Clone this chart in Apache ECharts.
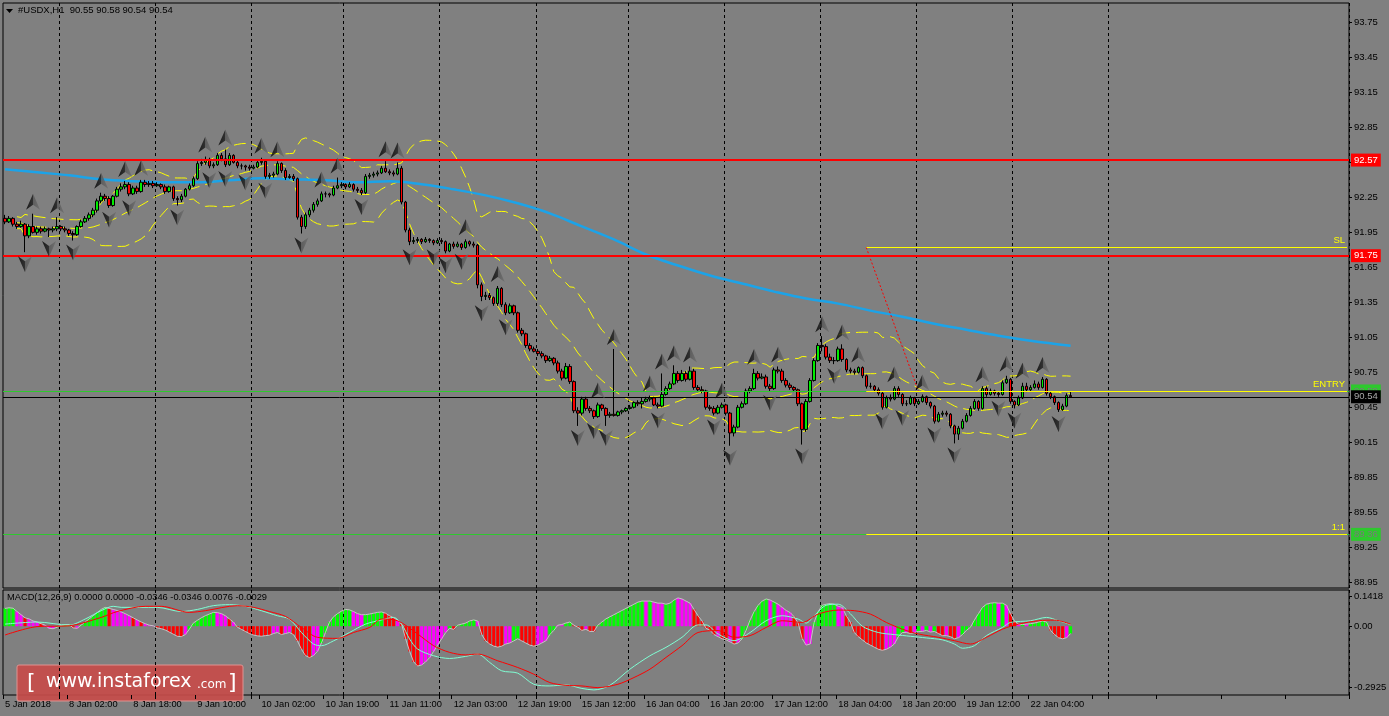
<!DOCTYPE html>
<html><head><meta charset="utf-8">
<script src="https://cdn.jsdelivr.net/npm/echarts@6/dist/echarts.min.js"></script>
<style>html,body{margin:0;padding:0;background:#808080;}#c{width:1389px;height:716px;}</style>
</head><body><div id="c"></div>
<script>
// ---------- DATA ----------
const timeLabels = ['5 Jan 2018','8 Jan 02:00','8 Jan 18:00','9 Jan 10:00','10 Jan 02:00','10 Jan 19:00','11 Jan 11:00','12 Jan 03:00','12 Jan 19:00','15 Jan 12:00','16 Jan 04:00','16 Jan 20:00','17 Jan 12:00','18 Jan 04:00','18 Jan 20:00','19 Jan 12:00','22 Jan 04:00'];
const daySeparatorBars = [14, 38, 62, 85, 109, 133, 156, 180, 204, 228, 252, 276];
const opens = [
92.07,92.04,92.07,92.02,92.00,92.02,91.92,92.00,91.95,91.98,
91.96,91.98,91.97,91.98,92.00,91.98,91.97,91.94,91.93,92.00,
92.04,92.07,92.10,92.14,92.22,92.26,92.24,92.18,92.26,92.32,
92.34,92.36,92.28,92.33,92.30,92.38,92.36,92.37,92.35,92.36,
92.34,92.30,92.34,92.24,92.23,92.26,92.32,92.35,92.41,92.54,
92.55,92.57,92.52,92.53,92.61,92.58,92.53,92.61,92.55,92.52,
92.52,92.51,92.50,92.51,92.55,92.56,92.43,92.44,92.45,92.54,
92.48,92.42,92.43,92.41,92.08,92.00,92.10,92.14,92.19,92.22,
92.28,92.28,92.27,92.33,92.35,92.36,92.34,92.36,92.32,92.31,
92.29,92.43,92.44,92.45,92.46,92.50,92.47,92.46,92.45,92.50,
92.21,91.97,91.87,91.88,91.89,91.87,91.89,91.88,91.86,91.88,
91.87,91.79,91.85,91.83,91.85,91.82,91.87,91.85,91.84,91.50,
91.40,91.41,91.39,91.34,91.47,91.33,91.26,91.32,91.26,91.11,
91.08,90.98,90.95,90.93,90.91,90.89,90.85,90.87,90.83,90.76,
90.70,90.80,90.67,90.42,90.40,90.52,90.44,90.42,90.37,90.47,
90.44,90.38,90.39,90.38,90.41,90.42,90.44,90.45,90.49,90.48,
90.50,90.52,90.53,90.47,90.46,90.56,90.61,90.65,90.74,90.68,
90.74,90.69,90.76,90.62,90.60,90.59,90.45,90.44,90.40,90.45,
90.47,90.40,90.23,90.28,90.45,90.48,90.59,90.61,90.74,90.70,
90.71,90.63,90.61,90.77,90.76,90.68,90.64,90.62,90.60,90.48,
90.26,90.50,90.68,90.85,90.98,90.97,90.88,90.85,90.85,90.95,
90.86,90.77,90.76,90.75,90.79,90.72,90.63,90.63,90.60,90.57,
90.45,90.53,90.52,90.61,90.56,90.48,90.48,90.53,90.48,90.50,
90.54,90.49,90.46,90.33,90.39,90.40,90.39,90.29,90.22,90.27,
90.33,90.38,90.44,90.50,90.44,90.61,90.56,90.59,90.57,90.56,
90.66,90.69,90.50,90.47,90.53,90.63,90.60,90.62,90.65,90.62,
90.69,90.57,90.54,90.49,90.43,90.46,90.55];
const highs = [
92.10,92.09,92.08,92.04,92.05,92.03,92.02,92.11,92.00,92.00,
92.00,91.99,92.00,92.08,92.01,92.00,91.98,91.96,92.01,92.06,
92.09,92.12,92.16,92.24,92.29,92.28,92.26,92.27,92.34,92.37,
92.39,92.38,92.35,92.35,92.40,92.40,92.39,92.39,92.38,92.37,
92.36,92.35,92.35,92.26,92.28,92.33,92.37,92.43,92.56,92.58,
92.60,92.59,92.55,92.63,92.63,92.66,92.63,92.62,92.57,92.54,
92.53,92.53,92.53,92.57,92.59,92.57,92.46,92.47,92.56,92.55,
92.50,92.45,92.45,92.42,92.10,92.12,92.16,92.21,92.24,92.30,
92.30,92.29,92.35,92.42,92.38,92.37,92.38,92.37,92.34,92.33,
92.45,92.46,92.47,92.48,92.52,92.56,92.49,92.48,92.55,92.52,
92.22,91.99,91.91,91.91,91.90,91.91,91.90,91.89,91.90,91.90,
91.88,91.86,91.87,91.87,91.86,91.89,91.88,91.87,91.85,91.52,
91.44,91.43,91.40,91.49,91.48,91.35,91.34,91.33,91.27,91.13,
91.09,91.00,90.97,90.95,90.93,90.90,90.89,90.88,90.85,90.78,
90.83,90.82,90.68,90.45,90.54,90.54,90.46,90.43,90.49,90.48,
90.45,90.41,90.95,90.42,90.43,90.45,90.47,90.50,90.51,90.53,
90.54,90.55,90.54,90.49,90.74,90.63,90.67,90.81,90.76,90.77,
90.76,90.80,90.78,90.64,90.63,90.60,90.47,90.46,90.47,90.49,
90.48,90.41,90.30,90.47,90.50,90.61,90.63,90.78,90.76,90.74,
90.73,90.65,90.79,90.80,90.78,90.70,90.66,90.63,90.61,90.49,
90.52,90.70,90.87,91.00,91.06,90.99,90.91,90.88,90.97,90.99,
90.87,90.79,90.78,90.80,90.80,90.73,90.66,90.64,90.62,90.58,
90.55,90.56,90.63,90.63,90.57,90.51,90.55,90.54,90.52,90.56,
90.55,90.50,90.47,90.41,90.42,90.42,90.40,90.30,90.29,90.35,
90.40,90.46,90.52,90.51,90.63,90.63,90.61,90.60,90.58,90.68,
90.72,90.70,90.51,90.55,90.66,90.66,90.64,90.68,90.67,90.71,
90.70,90.58,90.55,90.50,90.48,90.57,90.58];
const lows = [
92.02,92.03,92.00,91.98,91.99,91.78,91.90,91.94,91.93,91.94,
91.95,91.91,91.95,91.96,91.96,91.95,91.92,91.88,91.92,91.99,
92.03,92.05,92.08,92.12,92.20,92.22,92.16,92.17,92.25,92.30,
92.32,92.26,92.27,92.28,92.29,92.34,92.34,92.33,92.34,92.32,
92.28,92.29,92.22,92.18,92.21,92.25,92.31,92.34,92.40,92.52,
92.53,92.50,92.50,92.52,92.56,92.51,92.52,92.54,92.50,92.49,
92.48,92.48,92.49,92.50,92.53,92.41,92.41,92.42,92.44,92.46,
92.40,92.41,92.39,92.06,91.94,91.98,92.08,92.12,92.17,92.21,
92.25,92.25,92.26,92.32,92.33,92.32,92.33,92.30,92.29,92.27,
92.28,92.41,92.42,92.43,92.45,92.46,92.44,92.43,92.44,92.19,
91.95,91.84,91.85,91.86,91.85,91.86,91.86,91.84,91.85,91.85,
91.77,91.78,91.81,91.82,91.80,91.81,91.83,91.82,91.47,91.36,
91.37,91.37,91.32,91.32,91.31,91.24,91.25,91.24,91.09,91.06,
90.96,90.93,90.92,90.89,90.87,90.83,90.84,90.81,90.74,90.68,
90.69,90.65,90.40,90.29,90.38,90.42,90.40,90.35,90.36,90.42,
90.29,90.36,90.37,90.37,90.39,90.41,90.43,90.44,90.46,90.44,
90.49,90.50,90.46,90.44,90.45,90.55,90.60,90.64,90.66,90.67,
90.67,90.68,90.60,90.58,90.57,90.43,90.42,90.38,90.39,90.44,
90.38,90.12,90.20,90.27,90.44,90.47,90.57,90.60,90.68,90.69,
90.61,90.59,90.60,90.74,90.66,90.62,90.60,90.58,90.46,90.13,
90.24,90.49,90.67,90.84,90.93,90.86,90.83,90.82,90.84,90.84,
90.75,90.74,90.73,90.74,90.70,90.61,90.61,90.58,90.55,90.43,
90.44,90.50,90.51,90.54,90.46,90.46,90.47,90.46,90.47,90.49,
90.47,90.44,90.31,90.32,90.37,90.37,90.27,90.14,90.17,90.26,
90.32,90.37,90.43,90.42,90.43,90.54,90.55,90.55,90.54,90.55,
90.65,90.48,90.44,90.46,90.52,90.58,90.59,90.61,90.60,90.61,
90.55,90.52,90.47,90.41,90.42,90.45,90.54];
const closes = [
92.04,92.07,92.02,92.00,92.02,91.92,92.00,91.95,91.98,91.96,
91.98,91.97,91.98,92.00,91.98,91.97,91.94,91.93,92.00,92.04,
92.07,92.10,92.14,92.22,92.26,92.24,92.18,92.26,92.32,92.34,
92.36,92.28,92.33,92.30,92.38,92.36,92.37,92.35,92.36,92.34,
92.30,92.34,92.24,92.23,92.26,92.32,92.35,92.41,92.54,92.55,
92.57,92.52,92.53,92.61,92.58,92.53,92.61,92.55,92.52,92.52,
92.51,92.50,92.51,92.55,92.56,92.43,92.44,92.45,92.54,92.48,
92.42,92.43,92.41,92.08,92.00,92.10,92.14,92.19,92.22,92.28,
92.28,92.27,92.33,92.35,92.36,92.34,92.36,92.32,92.31,92.29,
92.43,92.44,92.45,92.46,92.50,92.47,92.46,92.45,92.50,92.21,
91.97,91.87,91.88,91.89,91.87,91.89,91.88,91.86,91.88,91.87,
91.79,91.85,91.83,91.85,91.82,91.87,91.85,91.84,91.50,91.40,
91.41,91.39,91.34,91.47,91.33,91.26,91.32,91.26,91.11,91.08,
90.98,90.95,90.93,90.91,90.89,90.85,90.87,90.83,90.76,90.70,
90.80,90.67,90.42,90.40,90.52,90.44,90.42,90.37,90.47,90.44,
90.38,90.39,90.38,90.41,90.42,90.44,90.45,90.49,90.48,90.50,
90.52,90.53,90.47,90.46,90.56,90.61,90.65,90.74,90.68,90.74,
90.69,90.76,90.62,90.60,90.59,90.45,90.44,90.40,90.45,90.47,
90.40,90.23,90.28,90.45,90.48,90.59,90.61,90.74,90.70,90.71,
90.63,90.61,90.77,90.76,90.68,90.64,90.62,90.60,90.48,90.26,
90.50,90.68,90.85,90.98,90.97,90.88,90.85,90.85,90.95,90.86,
90.77,90.76,90.75,90.79,90.72,90.63,90.63,90.60,90.57,90.45,
90.53,90.52,90.61,90.56,90.48,90.48,90.53,90.48,90.50,90.54,
90.49,90.46,90.33,90.39,90.40,90.39,90.29,90.22,90.27,90.33,
90.38,90.44,90.50,90.44,90.61,90.56,90.59,90.57,90.56,90.66,
90.69,90.50,90.47,90.53,90.63,90.60,90.62,90.65,90.62,90.69,
90.57,90.54,90.49,90.43,90.46,90.55,90.54];
// long moving average read at sample bars [barIndex, value]
const maPoints = [[0,92.491],[8,92.465],[16,92.439],[24,92.405],[32,92.388],[40,92.379],[48,92.379],[56,92.396],[64,92.413],[72,92.405],[80,92.396],[88,92.379],[96,92.388],[104,92.362],[112,92.319],[120,92.267],[128,92.199],[136,92.113],[144,92.001],[152,91.889],[160,91.760],[168,91.666],[176,91.580],[184,91.511],[192,91.442],[200,91.382],[208,91.339],[216,91.279],[224,91.227],[232,91.167],[240,91.115],[248,91.064],[256,91.021],[266,90.978]];
const macdHist = [
0.085,0.088,0.086,0.070,0.055,0.040,0.035,0.025,0.020,0.012,
0.005,-0.010,-0.012,-0.005,0.004,0.008,0.008,-0.008,-0.010,0.005,
0.020,0.035,0.050,0.065,0.080,0.090,0.085,0.080,0.075,0.068,
0.060,0.050,0.040,0.030,0.020,0.012,0.005,0.002,-0.008,-0.012,
-0.018,-0.028,-0.038,-0.048,-0.050,-0.040,-0.015,0.015,0.028,0.040,
0.050,0.058,0.066,0.065,0.060,0.050,0.035,0.020,-0.005,-0.015,
-0.025,-0.035,-0.042,-0.046,-0.048,-0.045,-0.043,-0.035,-0.030,-0.040,
-0.035,-0.030,-0.040,-0.070,-0.110,-0.140,-0.150,-0.140,-0.120,-0.080,
-0.030,0.020,0.045,0.060,0.072,0.080,0.078,0.070,0.060,0.055,
0.055,0.058,0.062,0.066,0.068,0.062,0.050,0.040,0.030,0.010,
-0.060,-0.120,-0.170,-0.190,-0.185,-0.170,-0.150,-0.120,-0.090,-0.060,
-0.030,-0.010,-0.015,0.005,0.010,0.015,0.025,0.030,0.025,-0.040,
-0.070,-0.085,-0.095,-0.100,-0.095,-0.085,-0.080,-0.070,-0.060,-0.070,
-0.080,-0.090,-0.095,-0.090,-0.080,-0.070,-0.040,-0.020,0.005,0.008,
0.015,0.020,0.005,-0.005,-0.020,-0.015,-0.025,-0.025,0.005,0.020,
0.035,0.045,0.055,0.065,0.075,0.085,0.095,0.105,0.115,0.120,
0.120,0.120,0.115,0.110,0.110,0.105,0.110,0.125,0.135,0.130,
0.120,0.110,0.080,0.050,0.025,-0.010,-0.020,-0.040,-0.050,-0.060,
-0.065,-0.075,-0.085,-0.080,-0.060,-0.020,0.030,0.070,0.100,0.120,
0.130,0.125,0.115,0.105,0.090,0.075,0.065,0.045,0.015,-0.060,
-0.090,-0.085,0.020,0.070,0.100,0.105,0.108,0.105,0.095,0.090,
0.050,0.020,-0.030,-0.050,-0.065,-0.080,-0.090,-0.100,-0.110,-0.115,
-0.110,-0.100,-0.085,-0.050,-0.030,-0.030,-0.035,-0.030,-0.025,-0.025,
-0.020,-0.028,-0.025,-0.035,-0.045,-0.045,-0.050,-0.060,-0.055,-0.040,
-0.020,-0.005,0.030,0.060,0.090,0.105,0.110,0.112,0.110,0.110,
0.100,0.060,0.025,0.010,0.008,0.010,0.012,0.015,0.020,0.025,
0.020,-0.020,-0.040,-0.055,-0.060,-0.055,-0.035];
const histColorCodes = 'gggmmrmmmr'+'mmmggggrmg'+'ggggggrmmm'+'mmrmrmmmrr'+'rrrrrmgggg'+'gggmmmrmrr'+'rrrrrrrmmr'+'mmrrrrrmmg'+'gggggggmmm'+'gggggrrrmr'+
 'rrrrmmmmmm'+'mgrgggggmr'+'rrrrrmmggr'+'rrrmmmggmm'+'ggrrrmrrgg'+'gggggggggg'+'mgmmmgggmm'+'mmrrrrrrmr'+'rmrmgggggg'+'gmgmmmmrrr'+
 'mmggggggmm'+'rrrrrrrrrr'+'mmmggmrmgm'+'gmgrrmrrmg'+'ggggggggmg'+'mrrmgmgggg'+'grrrrmg';
const macdMain = [[0,0.010],[8,0.020],[16,0.005],[20,0.034],[24,0.074],[27,0.095],[29,0.090],[38,0.090],[44,0.070],[48,0.080],[52,0.098],[56,0.103],[60,0.095],[64,0.074],[68,0.050],[71,0.034],[74,-0.030],[77,-0.085],[79,-0.093],[82,-0.070],[86,-0.030],[90,0.010],[94,0.030],[97,0.042],[99,0.010],[101,-0.061],[103,-0.109],[107,-0.141],[111,-0.154],[115,-0.144],[118,-0.133],[121,-0.173],[124,-0.213],[128,-0.224],[132,-0.277],[136,-0.285],[140,-0.280],[144,-0.297],[147,-0.304],[151,-0.282],[156,-0.205],[161,-0.141],[165,-0.101],[169,-0.053],[173,0.006],[175,0.006],[178,-0.037],[182,-0.069],[186,-0.030],[190,0.026],[194,0.050],[198,0.034],[200,0.015],[202,0.050],[205,0.100],[208,0.105],[211,0.060],[214,0.000],[218,-0.030],[222,-0.040],[226,-0.048],[230,-0.056],[234,-0.065],[237,-0.085],[239,-0.105],[242,-0.093],[245,-0.045],[249,-0.006],[251,0.018],[256,0.026],[260,0.042],[263,0.026],[266,0.008]];
const macdSignal = [[0,-0.042],[8,-0.002],[16,0.002],[24,0.042],[28,0.070],[35,0.095],[39,0.095],[46,0.066],[50,0.074],[58,0.098],[62,0.090],[66,0.070],[70,0.047],[74,-0.006],[78,-0.053],[83,-0.058],[87,-0.030],[91,-0.006],[94,0.034],[98,0.026],[103,-0.037],[107,-0.093],[111,-0.125],[115,-0.137],[118,-0.133],[123,-0.165],[128,-0.197],[132,-0.229],[136,-0.269],[140,-0.282],[144,-0.285],[148,-0.293],[153,-0.277],[157,-0.245],[161,-0.205],[165,-0.149],[169,-0.093],[173,-0.030],[178,-0.021],[182,-0.053],[186,-0.045],[190,-0.006],[194,0.026],[199,0.018],[203,0.058],[208,0.077],[212,0.074],[216,0.058],[220,0.018],[224,-0.014],[228,-0.037],[233,-0.053],[237,-0.069],[241,-0.085],[245,-0.053],[249,-0.014],[253,0.010],[258,0.026],[262,0.029],[266,0.010]];
const priceTicks = [88.95,89.25,89.55,89.85,90.15,90.45,90.75,91.05,91.35,91.65,91.95,92.25,92.55,92.85,93.15,93.45,93.75];
const macdTicks = [0.1418, 0, -0.2925];
const resistanceLevel = 92.57, supportLevel = 91.75;
const entryLevel = 90.59, stopLevel = 91.82, targetLevel = 89.36, bidLevel = 90.54;
const setupStartBar = 215, setupEntryBar = 228;
const macdHeader = 'MACD(12,26,9) 0.0000 0.0000 -0.0346 -0.0346 0.0076 -0.0029';

// ---------- BUILD ----------
const N = closes.length;
const SLOTS = 336;
const categories = Array.from({length: SLOTS}, (_, i) => (i % 16 === 0 && timeLabels[i / 16]) ? timeLabels[i / 16] : '');
const candles = closes.map((c, i) => [opens[i], c, lows[i], highs[i]]);
const bbUp = [], bbMid = [], bbLo = [];
for (let i = 0; i < N; i++) {
  if (i < 3) { bbUp.push(null); bbMid.push(null); bbLo.push(null); continue; }
  const w = closes.slice(Math.max(0, i - 19), i + 1);
  const m = w.reduce((a, b) => a + b, 0) / w.length;
  const sd = Math.sqrt(w.reduce((a, b) => a + (b - m) * (b - m), 0) / w.length);
  bbUp.push(+(m + 2 * sd).toFixed(4)); bbMid.push(+m.toFixed(4)); bbLo.push(+(m - 2 * sd).toFixed(4));
}
const fracUp = [], fracDn = [];
for (let i = 2; i < N - 2; i++) {
  if (highs[i] > highs[i-1] && highs[i] > highs[i-2] && highs[i] >= highs[i+1] && highs[i] >= highs[i+2]) fracUp.push([i, highs[i]]);
  if (lows[i] < lows[i-1] && lows[i] < lows[i-2] && lows[i] <= lows[i+1] && lows[i] <= lows[i+2]) fracDn.push([i, lows[i]]);
}
const colorMap = {g: '#00ff00', m: '#ff00ff', r: '#ff0000'};
const histData = macdHist.map((v, i) => ({value: v, itemStyle: {color: colorMap[histColorCodes[i]]}}));

const FONT = '"Liberation Sans", Arial, sans-serif';
const sepSet = new Set(daySeparatorBars);
const gridSplit = (i) => sepSet.has(i);
const fracGrad = {type: 'linear', x: 0, y: 0, x2: 1, y2: 0, colorStops: [
  {offset: 0, color: '#000000'}, {offset: 0.5, color: '#1e1e1e'}, {offset: 0.5, color: '#555555'}, {offset: 1, color: '#6c6c6c'}]};

function boxLabel(text, bg, fg) {
  return {show: true, position: 'end', distance: 2, formatter: text, color: fg, backgroundColor: bg,
    padding: [2, 3, 1, 3], fontSize: 9.5, fontFamily: FONT};
}
function tagLabel(text) {
  return {show: true, position: 'insideEndTop', distance: 2, formatter: text, color: '#ffff00', fontSize: 9.5, fontFamily: FONT};
}

const option = {
  animation: false,
  backgroundColor: '#808080',
  grid: [
    {left: 3, right: 40, top: 3, height: 585, show: true, borderColor: '#000', borderWidth: 1, backgroundColor: 'transparent', outerBoundsMode: 'none'},
    {left: 3, right: 40, top: 590, height: 105, show: true, borderColor: '#000', borderWidth: 1, backgroundColor: 'transparent', outerBoundsMode: 'none'}
  ],
  xAxis: [
    {type: 'category', gridIndex: 0, data: categories, boundaryGap: true, position: 'bottom',
     axisLine: {show: false, onZero: false}, axisTick: {show: false}, axisLabel: {show: false},
     splitLine: {show: true, interval: gridSplit, lineStyle: {color: '#000', type: [3, 3], width: 1}}},
    {type: 'category', gridIndex: 1, data: categories, boundaryGap: true, position: 'bottom',
     axisLine: {show: false, onZero: false},
     axisTick: {show: true, length: 4, interval: (i) => i % 16 === 0 || gridSplit(i), lineStyle: {color: '#000'}},
     axisLabel: {show: true, interval: (i, v) => v !== '', align: 'left', color: '#000', fontSize: 9.3, fontFamily: FONT, margin: 5},
     splitLine: {show: true, interval: gridSplit, lineStyle: {color: '#000', type: [3, 3], width: 1}}}
  ],
  yAxis: [
    {type: 'value', gridIndex: 0, position: 'right', min: 88.90, max: 93.917, scale: true,
     axisLine: {show: false}, splitLine: {show: false},
     axisTick: {show: true, length: 3, customValues: priceTicks, lineStyle: {color: '#000'}},
     axisLabel: {show: true, customValues: priceTicks, formatter: (v) => v.toFixed(2), color: '#000', fontSize: 9.5, fontFamily: FONT, margin: 5}},
    {type: 'value', gridIndex: 1, position: 'right', min: -0.3283, max: 0.1728,
     axisLine: {show: false}, splitLine: {show: false},
     axisTick: {show: true, length: 3, customValues: macdTicks, lineStyle: {color: '#000'}},
     axisLabel: {show: true, customValues: macdTicks, formatter: (v) => v === 0 ? '0.00' : v.toFixed(4), color: '#000', fontSize: 9.5, fontFamily: FONT, margin: 5}}
  ],
  series: [
    {name: 'bbUp', type: 'line', xAxisIndex: 0, yAxisIndex: 0, data: bbUp, showSymbol: false, silent: true, z: 2,
     lineStyle: {color: '#ffff00', width: 1, type: [12, 6]}},
    {name: 'bbMid', type: 'line', xAxisIndex: 0, yAxisIndex: 0, data: bbMid, showSymbol: false, silent: true, z: 2,
     lineStyle: {color: '#ffff00', width: 1, type: [12, 6]}},
    {name: 'bbLo', type: 'line', xAxisIndex: 0, yAxisIndex: 0, data: bbLo, showSymbol: false, silent: true, z: 2,
     lineStyle: {color: '#ffff00', width: 1, type: [12, 6]}},
    {name: 'ma', type: 'line', xAxisIndex: 0, yAxisIndex: 0, data: maPoints, showSymbol: false, silent: true, smooth: 0.4, z: 3,
     lineStyle: {color: '#1ca3e8', width: 2.5}},
    {name: 'price', type: 'candlestick', xAxisIndex: 0, yAxisIndex: 0, data: candles, barWidth: 3, silent: true, z: 4,
     itemStyle: {color: '#00ee00', color0: '#ff0000', borderColor: '#000', borderColor0: '#000', borderWidth: 1}},
    {name: 'fracUp', type: 'scatter', xAxisIndex: 0, yAxisIndex: 0, data: fracUp, silent: true, z: 5,
     symbol: 'path://M7,0 L14,16 L7,11 L0,16 Z', symbolSize: [14, 16], symbolOffset: [0, -12], itemStyle: {color: fracGrad}},
    {name: 'fracDn', type: 'scatter', xAxisIndex: 0, yAxisIndex: 0, data: fracDn, silent: true, z: 5,
     symbol: 'path://M0,0 L7,5 L14,0 L7,16 Z', symbolSize: [14, 16], symbolOffset: [0, 12], itemStyle: {color: fracGrad}},
    {name: 'levels', type: 'line', xAxisIndex: 0, yAxisIndex: 0, data: [], clip: false, z: 6,
     markLine: {silent: true, symbol: ['none', 'none'], animation: false,
      data: [
        {yAxis: resistanceLevel, lineStyle: {color: '#ff0000', width: 2, type: 'solid'}, label: boxLabel(resistanceLevel.toFixed(2), '#ff0000', '#ffffff')},
        {yAxis: supportLevel, lineStyle: {color: '#ff0000', width: 2, type: 'solid'}, label: boxLabel(supportLevel.toFixed(2), '#ff0000', '#ffffff')},
        {yAxis: entryLevel, lineStyle: {color: '#2ec82e', width: 1, type: 'solid'}, label: boxLabel(entryLevel.toFixed(2), '#2ec82e', '#7a7a7a')},
        {yAxis: targetLevel, lineStyle: {color: '#2ec82e', width: 1, type: 'solid'}, label: boxLabel(targetLevel.toFixed(2), '#2ec82e', '#7a7a7a')},
        {yAxis: bidLevel, lineStyle: {color: '#000000', width: 1, type: 'solid'}, label: boxLabel(bidLevel.toFixed(2), '#000000', '#a8a8a8')},
        [{coord: [setupStartBar, stopLevel], lineStyle: {color: '#ffff00', width: 1, type: 'solid'}, label: tagLabel('SL')}, {coord: [SLOTS - 1, stopLevel]}],
        [{coord: [setupStartBar, entryLevel], lineStyle: {color: '#ffff00', width: 1, type: 'solid'}, label: tagLabel('ENTRY')}, {coord: [SLOTS - 1, entryLevel]}],
        [{coord: [setupStartBar, targetLevel], lineStyle: {color: '#ffff00', width: 1, type: 'solid'}, label: tagLabel('1:1')}, {coord: [SLOTS - 1, targetLevel]}],
        [{coord: [setupStartBar, stopLevel], lineStyle: {color: '#ff0000', width: 1, type: [2, 2]}, label: {show: false}}, {coord: [setupEntryBar, entryLevel]}]
      ]}},
    {name: 'hist', type: 'bar', xAxisIndex: 1, yAxisIndex: 1, data: histData, barWidth: 3, silent: true, z: 2},
    {name: 'histOutline', type: 'line', xAxisIndex: 1, yAxisIndex: 1, data: macdHist, showSymbol: false, silent: true, z: 3,
     lineStyle: {color: '#c4c4c4', width: 1}},
    {name: 'macd', type: 'line', xAxisIndex: 1, yAxisIndex: 1, data: macdMain, showSymbol: false, silent: true, smooth: 0.3, z: 4,
     lineStyle: {color: '#7fffd4', width: 1}},
    {name: 'signal', type: 'line', xAxisIndex: 1, yAxisIndex: 1, data: macdSignal, showSymbol: false, silent: true, smooth: 0.3, z: 4,
     lineStyle: {color: '#ff0000', width: 1}}
  ],
  graphic: [
    {type: 'polygon', shape: {points: [[6, 9], [13, 9], [9.5, 13]]}, style: {fill: '#000'}, silent: true},
    {type: 'text', x: 18, y: 5, silent: true, style: {text: '#USDX,H1  ' + [opens[N-1], highs[N-1], lows[N-1], closes[N-1]].map(v => v.toFixed(2)).join(' '),
      fill: '#000', font: '9.5px ' + FONT, verticalAlign: 'top'}},
    {type: 'text', x: 7, y: 593, silent: true, z: 50, style: {text: macdHeader, fill: '#000', font: '9.3px ' + FONT, verticalAlign: 'top'}},
    {type: 'group', silent: true, z: 100, children: [
      {type: 'rect', shape: {x: 17, y: 665, width: 226, height: 36, r: 2}, style: {fill: 'rgba(198,76,74,0.93)', stroke: '#e09290', lineWidth: 1}},
      {type: 'text', x: 27, y: 683, style: {text: '[', fill: '#fff', font: '22px "DejaVu Sans", sans-serif', verticalAlign: 'middle'}},
      {type: 'text', x: 46, y: 682, style: {text: 'www.instaforex', fill: '#fff', font: '19px "DejaVu Sans", sans-serif', verticalAlign: 'middle'}},
      {type: 'text', x: 197, y: 685, style: {text: '.com', fill: '#fff', font: '12px "DejaVu Sans", sans-serif', verticalAlign: 'middle'}},
      {type: 'text', x: 228, y: 683, style: {text: ']', fill: '#fff', font: '22px "DejaVu Sans", sans-serif', verticalAlign: 'middle'}}
    ]}
  ]
};
const chart = echarts.init(document.getElementById('c'), null, {renderer: 'canvas', width: 1389, height: 716});
chart.setOption(option);
</script>
</body></html>
